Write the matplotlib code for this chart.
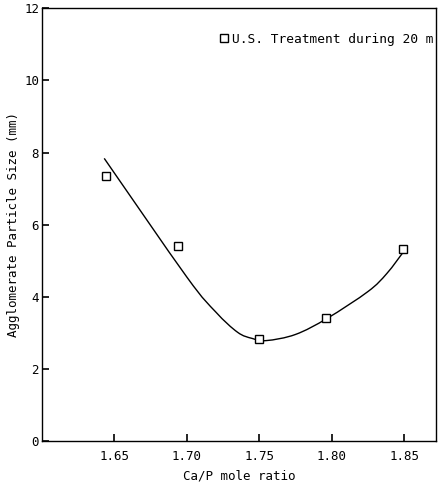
import numpy as np
import matplotlib.pyplot as plt
from matplotlib.path import Path
from matplotlib.patches import PathPatch

# Measured points (Ca/P ratio, agglomerate size)
ratio = [1.644, 1.694, 1.750, 1.796, 1.849]
size = [7.35, 5.42, 2.82, 3.42, 5.33]

# Fitted curve
curve_x = [1.643, 1.700, 1.720, 1.735, 1.745, 1.755, 1.775, 1.797,
           1.825, 1.838, 1.850]
curve_y = [7.84, 4.55, 3.58, 3.02, 2.85, 2.79, 2.96, 3.41,
           4.15, 4.65, 5.28]

xticks = [1.65, 1.70, 1.75, 1.80, 1.85]
xticklabels = ['1.65', '1.70', '1.75', '1.80', '1.85']
yticks = [0, 2, 4, 6, 8, 10, 12]

plt.rcParams['font.family'] = ['DejaVu Sans Mono']

fig = plt.figure(figsize=(4.41, 4.87), dpi=100)
ax = fig.add_axes([0.095, 0.094, 0.894, 0.889])

# draw the fitted curve as a smooth bezier path through the read points
pts = np.column_stack([curve_x, curve_y])
verts = [pts[0]]
codes = [Path.MOVETO]
for i in range(len(pts) - 1):
    p0 = pts[max(i - 1, 0)]
    p1 = pts[i]
    p2 = pts[i + 1]
    p3 = pts[min(i + 2, len(pts) - 1)]
    verts += [p1 + (p2 - p0) / 6, p2 - (p3 - p1) / 6, p2]
    codes += [Path.CURVE4] * 3
ax.add_patch(PathPatch(Path(verts, codes), fill=False, edgecolor='k',
                       linewidth=1.0))

ax.plot(ratio, size, 's', color='k', markerfacecolor='white',
        markersize=6, markeredgewidth=1.0, linestyle='none',
        label='U.S. Treatment during 20 m')

ax.set_xlim(1.60, 1.872)
ax.set_ylim(0, 12)
ax.set_xticks(xticks)
ax.set_xticklabels(xticklabels)
ax.set_yticks(yticks)
ax.tick_params(direction='in', length=5, width=1.2, labelsize=9, pad=6)
ax.tick_params(axis='y', pad=2)

ax.set_xlabel('Ca/P mole ratio', fontsize=9, labelpad=5)
ax.set_ylabel('Agglomerate Particle Size (mm)', fontsize=9, labelpad=3)

for s in ax.spines.values():
    s.set_linewidth(1.0)

ax.legend(loc='upper right', bbox_to_anchor=(1.0, 0.95), frameon=False,
          fontsize=9.3, handlelength=0.6, handletextpad=0.3,
          borderaxespad=0.0, borderpad=0.2, markerscale=0.9)

plt.savefig('out.png', dpi=100)
